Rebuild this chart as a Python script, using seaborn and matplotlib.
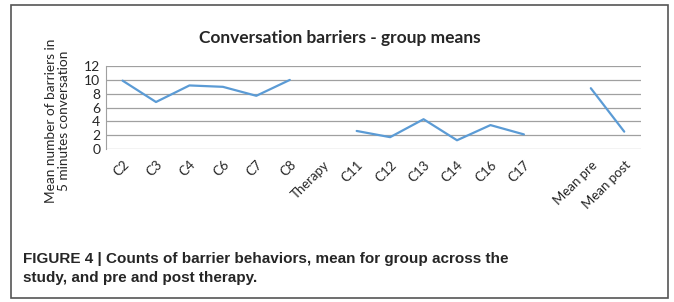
import matplotlib
matplotlib.use('Agg')
import matplotlib.pyplot as plt
import seaborn as sns
import pandas as pd
import numpy as np
from matplotlib.patches import Rectangle

# categories along the x axis (gaps at Therapy and before the means)
categories = ['C2', 'C3', 'C4', 'C6', 'C7', 'C8', 'Therapy',
              'C11', 'C12', 'C13', 'C14', 'C16', 'C17', '',
              'Mean pre', 'Mean post']
barriers = [9.9, 6.8, 9.2, 9.0, 7.7, 10.0, np.nan,
            2.6, 1.7, 4.3, 1.25, 3.45, 2.1, np.nan,
            8.8, 2.5]

title = 'Conversation barriers - group means'
ylabel = 'Mean number of barriers in\n5 minutes conversation'
caption = ('FIGURE 4 | Counts of barrier behaviors, mean for group across the\n'
           'study, and pre and post therapy.')

df = pd.DataFrame({'pos': np.arange(len(categories)), 'value': barriers})
# split into continuous segments so the gaps stay open
df['segment'] = df['value'].isna().cumsum()
df = df.dropna()

sns.set_style('white')
plt.rcParams['font.family'] = ['Lato', 'DejaVu Sans']

fig = plt.figure(figsize=(6.74, 3.02), dpi=100)
ax = fig.add_axes([0.157, 0.507, 0.794, 0.274])

sns.lineplot(data=df, x='pos', y='value', units='segment', estimator=None,
             color='#5B9BD5', linewidth=1.6, ax=ax)

ax.set_xlim(-0.5, len(categories) - 0.5)
ax.set_ylim(0, 12)
ax.set_yticks(range(0, 13, 2))
ax.set_xticks(range(len(categories)))
ax.set_xticklabels(categories, rotation=45, ha='right', rotation_mode='anchor',
                   fontsize=9.5)
ax.tick_params(axis='y', labelsize=10, length=0, pad=4)
ax.tick_params(axis='x', length=0, pad=7)
ax.grid(axis='y', color='#a0a0a0', linewidth=0.9)
ax.set_axisbelow(True)
for side in ['top', 'right', 'bottom']:
    ax.spines[side].set_visible(False)
ax.spines['left'].set_color('#a0a0a0')
ax.set_xlabel('')
ax.set_ylabel('')

fig.text(0.086, 0.6, ylabel, rotation=90, ha='center', va='center',
         fontsize=9.8, linespacing=1.1)
fig.text(0.504, 0.874, title, ha='center', va='center', fontsize=12.5,
         fontweight='bold')
fig.text(0.034, 0.111, caption, ha='left', va='center', fontsize=11,
         fontweight='bold', linespacing=1.5,
         family=['Liberation Sans', 'DejaVu Sans'])

fig.patches.append(Rectangle((0.016, 0.012), 0.975, 0.972, transform=fig.transFigure,
                             fill=False, edgecolor='#555555', linewidth=1.2))

fig.savefig('out.png', dpi=100)
plt.close(fig)
